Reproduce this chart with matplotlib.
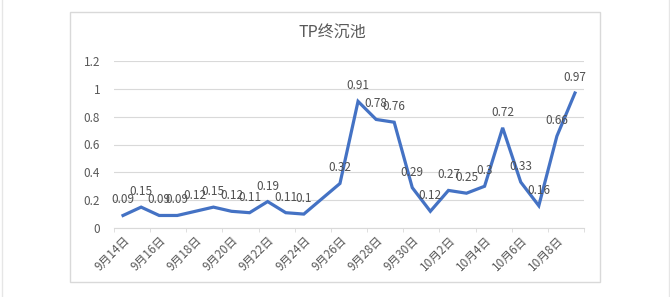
import matplotlib.pyplot as plt
import numpy as np

plt.rcParams['font.family'] = ['Noto Sans CJK SC', 'DejaVu Sans']

# data (9/25 has no value, line is connected across it)
dates = ["9月14日", "9月15日", "9月16日", "9月17日", "9月18日", "9月19日", "9月20日",
         "9月21日", "9月22日", "9月23日", "9月24日", "9月25日", "9月26日", "9月27日",
         "9月28日", "9月29日", "9月30日", "10月1日", "10月2日", "10月3日", "10月4日",
         "10月5日", "10月6日", "10月7日", "10月8日", "10月9日"]
tp = [0.09, 0.15, 0.09, 0.09, 0.12, 0.15, 0.12, 0.11, 0.19, 0.11, 0.1, None,
      0.32, 0.91, 0.78, 0.76, 0.29, 0.12, 0.27, 0.25, 0.3, 0.72, 0.33, 0.16,
      0.66, 0.97]
labels = ["0.09", "0.15", "0.09", "0.09", "0.12", "0.15", "0.12", "0.11", "0.19",
          "0.11", "0.1", "", "0.32", "0.91", "0.78", "0.76", "0.29", "0.12", "0.27",
          "0.25", "0.3", "0.72", "0.33", "0.16", "0.66", "0.97"]
y_ticks = [0, 0.2, 0.4, 0.6, 0.8, 1.0, 1.2]
y_ticklabels = ["0", "0.2", "0.4", "0.6", "0.8", "1", "1.2"]

W, H = 670, 297
fig = plt.figure(figsize=(W / 100, H / 100), dpi=100)
fig.patch.set_facecolor("white")

# chart area frame
frame = plt.Rectangle((70 / W, 1 - 282 / H), 530 / W, 270 / H, transform=fig.transFigure,
                      facecolor="none", edgecolor="#d9d9d9", lw=1.0, zorder=-1)
fig.patches.append(frame)
# page edges
fig.add_artist(plt.Line2D([1.5 / W, 1.5 / W], [0, 1], color="#e6e6e6", lw=1))
fig.add_artist(plt.Line2D([668.5 / W, 668.5 / W], [0, 1], color="#e6e6e6", lw=1))

ax = fig.add_axes([114 / W, 1 - 228 / H, 470 / W, 167 / H])
ax.set_facecolor("none")

x = np.arange(len(dates))
xv = [i for i, v in zip(x, tp) if v is not None]
yv = [v for v in tp if v is not None]
ax.plot(xv, yv, color="#4472C4", lw=2.3, solid_joinstyle="miter", zorder=3)

for i, v, lab in zip(x, tp, labels):
    if v is None or lab == "":
        continue
    ax.annotate(lab, (i, v), xytext=(0, 6.5), textcoords="offset points",
                ha="center", va="bottom", fontsize=8.5, color="#505050", zorder=4)

ax.set_xlim(-0.5, len(dates) - 0.5)
ax.set_ylim(0, 1.2)
ax.set_yticks(y_ticks)
ax.set_yticklabels(y_ticklabels)
ax.grid(axis="y", color="#d9d9d9", lw=0.8)
ax.set_axisbelow(True)

ax.set_xticks(x[::2])
ax.set_xticklabels(dates[::2], rotation=45, ha="right", va="top", rotation_mode="anchor")
ax.set_xticks(np.arange(-0.5, len(dates), 2), minor=True)
ax.tick_params(axis="x", which="major", length=0, labelsize=8.5, labelcolor="#595959", pad=4)
ax.tick_params(axis="x", which="minor", length=3, color="#d9d9d9")
ax.tick_params(axis="y", length=0, labelsize=8.5, labelcolor="#595959", pad=10)

for s in ["top", "right", "left"]:
    ax.spines[s].set_visible(False)
ax.spines["bottom"].set_color("#d9d9d9")
ax.spines["bottom"].set_linewidth(0.8)

fig.text(332 / W, 1 - 33 / H, "TP终沉池", ha="center", va="center", fontsize=11.5,
         color="#595959")

fig.savefig("out.png", dpi=100)
